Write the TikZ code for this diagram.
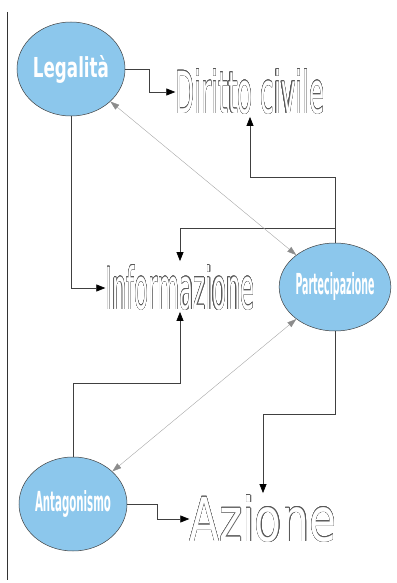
\documentclass[tikz,border=0pt]{standalone}
\usepackage{fontspec}
\setmainfont{DejaVu Sans}
\usepackage{contour}
\usetikzlibrary{shapes.geometric}
\usetikzlibrary{arrows.meta}
\contourlength{0.6pt}
\definecolor{celeste}{RGB}{140,199,236}
\newcommand{\vuoto}[3]{\resizebox{#1}{#2}{\fontsize{56}{60}\selectfont\color{white}\contour{black!65}{#3}}}
\newcommand{\pieno}[3]{\resizebox{#1}{#2}{\bfseries #3}}
\tikzset{
  bolla/.style={ellipse,draw=black!75,line width=0.5pt,fill=celeste,text=white,minimum width=108pt,minimum height=94pt,inner sep=0pt},
  voce/.style={inner sep=0pt},
  freccia/.style={draw=black!75,line width=0.7pt,-{Triangle[length=9pt,width=7pt,color=black]}},
  legame/.style={draw=black!35,line width=0.4pt,{Triangle[length=9pt,width=6pt,color=black!45]}-{Triangle[length=9pt,width=6pt,color=black!45]}}
}
\begin{document}
\begin{tikzpicture}[x=1pt,y=-1pt]
\useasboundingbox (0,0) rectangle (396,583);
\draw[black!80,line width=0.6pt] (7,12) -- (7,580);

\node[bolla] (legal) at (71,69) {\pieno{76pt}{22pt}{Legalità}};
\node[bolla,minimum width=110pt,minimum height=88pt] (partec) at (335,287) {\pieno{79pt}{22pt}{Partecipazione}};
\node[bolla] (antag) at (73,504) {\pieno{76pt}{21pt}{Antagonismo}};

\node[voce] (diritto) at (250,92) {\vuoto{149pt}{44pt}{Diritto civile}};
\node[voce] (info) at (180,288) {\vuoto{149pt}{44pt}{Informazione}};
\node[voce] (azione) at (263,519) {\vuoto{147pt}{46pt}{Azione}};

\draw[freccia] (legal.east) -- ++(24,0) |- (diritto.west);
\draw[freccia] (legal.south) |- (info.west);
\draw[freccia,shorten >=2pt] (partec.north) -- ++(0,-65) -| (diritto.south);
\coordinate (snodo) at ([yshift=14pt]partec.north);
\draw[freccia,shorten >=4pt] (snodo) -| (info.north);
\draw[freccia,shorten >=1pt] (antag.north) -- ++(0,-73) -| (info.south);
\draw[freccia,shorten >=2pt] (partec.south) -- ++(0,83) -| (azione.north);
\draw[freccia] (antag.east) -- ++(30,0) |- (azione.west);

\draw[legame] (legal) -- (partec);
\draw[legame] (antag) -- (partec);
\end{tikzpicture}
\end{document}
